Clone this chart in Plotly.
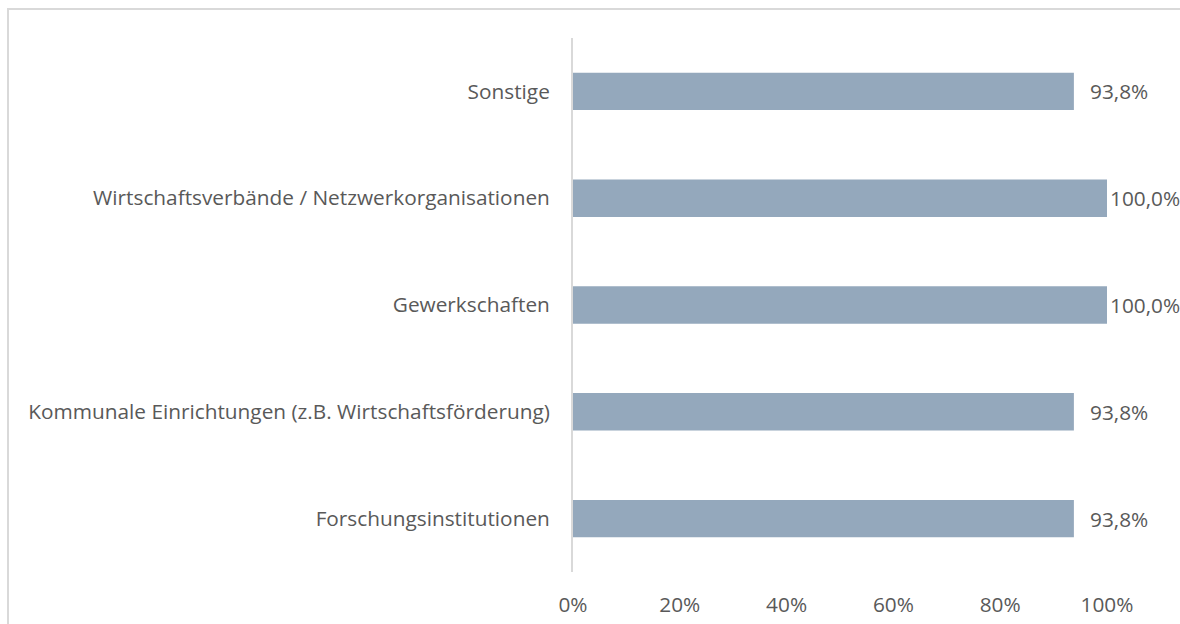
import plotly.graph_objects as go

categories = [
    "Forschungsinstitutionen",
    "Kommunale Einrichtungen (z.B. Wirtschaftsförderung)",
    "Gewerkschaften",
    "Wirtschaftsverbände / Netzwerkorganisationen",
    "Sonstige",
]
values = [0.938, 0.938, 1.0, 1.0, 0.938]
value_labels = ["93,8%", "93,8%", "100,0%", "100,0%", "93,8%"]
tick_vals = [0, 0.2, 0.4, 0.6, 0.8, 1.0]
tick_text = ["0%", "20%", "40%", "60%", "80%", "100%"]

FONT = "Open Sans"
FS = 20.8
TXT = "#595959"
BAR = "#94A8BC"

fig = go.Figure()
fig.add_trace(go.Bar(
    y=categories, x=values, orientation="h",
    marker=dict(color=BAR, line=dict(width=0)),
    width=0.35,
    hoverinfo="skip",
))

annotations = []
for c, v, t in zip(categories, values, value_labels):
    annotations.append(dict(
        x=v, y=c, xref="x", yref="y", text=t, showarrow=False,
        xanchor="left", yanchor="middle",
        xshift=(1 if v >= 1.0 else 14),
        font=dict(family=FONT, size=FS, color=TXT),
    ))

L, R, T, B = 573, 73, 38, 52
W, H = 1180, 624
pw, ph = W - L - R, H - T - B
px = lambda p: (p - L) / pw
py = lambda p: (H - B - p) / ph

border = dict(color="#D9D9D9", width=2)
fig.update_layout(
    width=W, height=H,
    margin=dict(l=L, r=R, t=T, b=B, autoexpand=False),
    plot_bgcolor="white", paper_bgcolor="white",
    showlegend=False,
    font=dict(family=FONT, color=TXT, size=FS),
    xaxis=dict(range=[0, 1.0], tickvals=tick_vals, ticktext=tick_text,
               showgrid=False, zeroline=False, showline=False, automargin=False,
               ticks="outside", ticklen=14, tickcolor="rgba(0,0,0,0)",
               tickfont=dict(family=FONT, size=FS, color=TXT), fixedrange=True),
    yaxis=dict(showgrid=False, zeroline=False, showline=True, linecolor="#D9D9D9",
               linewidth=2, ticks="outside", ticklen=17, tickcolor="rgba(0,0,0,0)",
               automargin=False,
               tickfont=dict(family=FONT, size=FS, color=TXT), fixedrange=True,
               range=[-0.5, 4.5]),
    annotations=annotations,
    shapes=[
        dict(type="line", xref="paper", yref="paper",
             x0=px(7), x1=px(1180), y0=py(9), y1=py(9), line=border, layer="below"),
        dict(type="line", xref="paper", yref="paper",
             x0=px(8), x1=px(8), y0=py(8), y1=py(640), line=border, layer="below"),
    ],
)
fig.write_html("out.html", config={"displayModeBar": False},
               post_script="document.body.style.margin='0';document.body.style.overflow='hidden';")
